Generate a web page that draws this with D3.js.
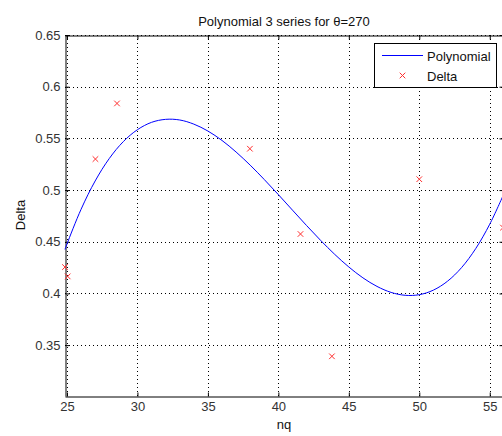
<!DOCTYPE html>
<html><head><meta charset="utf-8">
<script src="https://cdn.jsdelivr.net/npm/d3@7"></script>
<style>html,body{margin:0;padding:0;background:#fff;overflow:hidden}</style>
</head><body>
<svg id="c" width="502" height="436"></svg>
<script>
// Data
const deltaX = [24.86, 25.05, 27.02, 28.55, 37.98, 41.57, 43.8, 50.0, 55.94];
const deltaY = [0.4255, 0.4165, 0.530, 0.5838, 0.540, 0.4575, 0.3392, 0.5105, 0.4637];
const polyX = [24.86, 25, 26, 27, 28, 29, 30, 31, 32, 33, 34, 35, 36, 37, 38, 39, 40, 41, 42, 43, 44, 45, 46, 47, 48, 49, 50, 51, 52, 53, 54, 55, 55.94];
const polyY = [0.4426, 0.4478, 0.4814, 0.5088, 0.5305, 0.5469, 0.5584, 0.5655, 0.5684, 0.5678, 0.5638, 0.5571, 0.5480, 0.5368, 0.5241, 0.5102, 0.4956, 0.4806, 0.4657, 0.4513, 0.4378, 0.4256, 0.4151, 0.4068, 0.4010, 0.3982, 0.3988, 0.4032, 0.4118, 0.4250, 0.4433, 0.4670, 0.4945];
const xTicks = [25, 30, 35, 40, 45, 50, 55];
const yTicks = [0.35, 0.4, 0.45, 0.5, 0.55, 0.6, 0.65];
const xDomain = [24.86, 55.94];
const yDomain = [0.3008, 0.65];
const titleText = "Polynomial 3 series for \u03B8=270";
const legendLabels = ["Polynomial", "Delta"];

const svg = d3.select("#c");
const L = 65, R = 503, T = 35, B = 396;
const x = d3.scaleLinear().domain(xDomain).range([L, R]);
const y = d3.scaleLinear().domain(yDomain).range([B, T]);
const font = "'Liberation Sans', Arial, Helvetica, sans-serif";

// grid
const g = svg.append("g");
g.selectAll(".gx").data(xTicks).enter().append("line")
  .attr("x1", d => Math.round(x(d)) + 0.5).attr("x2", d => Math.round(x(d)) + 0.5)
  .attr("y1", T).attr("y2", B)
  .attr("stroke", "#000").attr("stroke-width", 1).attr("stroke-dasharray", "1,3");
g.selectAll(".gy").data(yTicks).enter().append("line")
  .attr("y1", d => Math.round(y(d)) + 0.5).attr("y2", d => Math.round(y(d)) + 0.5)
  .attr("x1", L).attr("x2", R)
  .attr("stroke", "#000").attr("stroke-width", 1).attr("stroke-dasharray", "1,3");

// axes (inward ticks on all four sides)
const tl = 4;
const axB = d3.axisBottom(x).tickValues(xTicks).tickSizeInner(-tl).tickSizeOuter(0).tickPadding(5).tickFormat(d3.format("d"));
const axT = d3.axisTop(x).tickValues(xTicks).tickSizeInner(-tl).tickSizeOuter(0).tickFormat("");
const axLf = d3.axisLeft(y).tickValues(yTicks).tickSizeInner(-tl).tickSizeOuter(0).tickPadding(5).tickFormat(d => String(+d.toFixed(2)));
const axRt = d3.axisRight(y).tickValues(yTicks).tickSizeInner(-tl).tickSizeOuter(0).tickFormat("");

function styleAxis(sel) {
  sel.selectAll("path").attr("stroke", "#000");
  sel.selectAll("line").attr("stroke", "#000");
  sel.selectAll("text").attr("fill", "#333").style("font-family", font).style("font-size", "13px");
}
svg.append("g").attr("transform", `translate(0,${B + 0.5})`).call(axB).call(styleAxis);
svg.append("g").attr("transform", `translate(0,${T + 0.5})`).call(axT).call(styleAxis);
svg.append("g").attr("transform", `translate(${L + 0.5},0)`).call(axLf).call(styleAxis);
svg.append("g").attr("transform", `translate(${R + 0.5},0)`).call(axRt).call(styleAxis);

// polynomial curve
const pts = polyX.map((v, i) => [v, polyY[i]]);
svg.append("path").datum(pts)
  .attr("d", d3.line().x(d => x(d[0])).y(d => y(d[1])).curve(d3.curveCatmullRom))
  .attr("fill", "none").attr("stroke", "#0000ff").attr("stroke-width", 1);

// delta markers
const s = 2.8;
function cross(sel) {
  sel.append("line").attr("x1", -s).attr("y1", -s).attr("x2", s).attr("y2", s);
  sel.append("line").attr("x1", -s).attr("y1", s).attr("x2", s).attr("y2", -s);
}
const dpts = deltaX.map((v, i) => [v, deltaY[i]]);
svg.selectAll(".m").data(dpts).enter().append("g")
  .attr("transform", d => `translate(${x(d[0])},${y(d[1])})`)
  .attr("stroke", "#ff3030").attr("stroke-width", 1)
  .each(function () { cross(d3.select(this)); });

// title & labels
svg.append("text").attr("x", (L + R) / 2).attr("y", 26).attr("text-anchor", "middle")
  .style("font-family", font).style("font-size", "13px").attr("fill", "#111").text(titleText);
svg.append("text").attr("x", (L + R) / 2).attr("y", 429).attr("text-anchor", "middle")
  .style("font-family", font).style("font-size", "13px").attr("fill", "#111").text("nq");
svg.append("text").attr("transform", "translate(25,215) rotate(-90)").attr("text-anchor", "middle")
  .style("font-family", font).style("font-size", "13px").attr("fill", "#111").text("Delta");

// legend
const lg = svg.append("g");
lg.append("rect").attr("x", 374.5).attr("y", 43.5).attr("width", 122).attr("height", 44)
  .attr("fill", "#fff").attr("stroke", "#000").attr("stroke-width", 1);
lg.append("line").attr("x1", 382).attr("x2", 423).attr("y1", 55.5).attr("y2", 55.5)
  .attr("stroke", "#0000ff").attr("stroke-width", 1);
const lm = lg.append("g").attr("transform", "translate(402.5,75.5)").attr("stroke", "#ff3030").attr("stroke-width", 1);
cross(lm);
lg.append("text").attr("x", 427).attr("y", 60.5).style("font-family", font).style("font-size", "13px").attr("fill", "#111").text(legendLabels[0]);
lg.append("text").attr("x", 427).attr("y", 81).style("font-family", font).style("font-size", "13px").attr("fill", "#111").text(legendLabels[1]);
</script>
</body></html>
